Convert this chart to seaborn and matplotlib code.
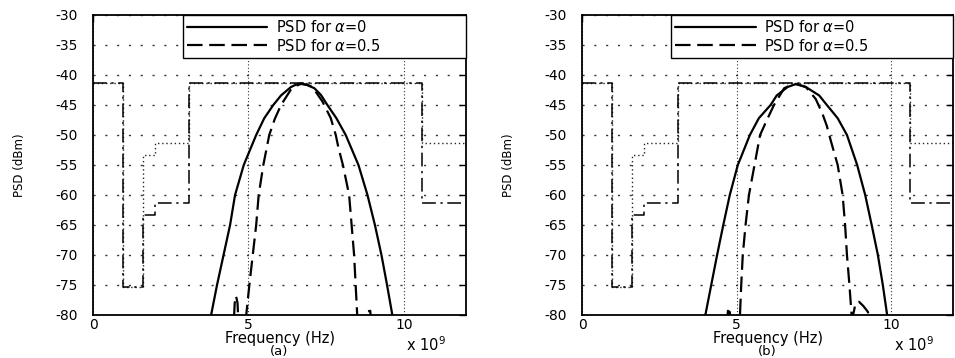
import matplotlib
matplotlib.use('Agg')
import matplotlib.pyplot as plt
import seaborn as sns

# FCC UWB masks, frequency in GHz (x 10^9 Hz), level in dBm
mask_freq = [0.0, 0.96, 1.61, 1.99, 3.1, 10.6, 12.0]
mask_indoor = [-41.3, -75.3, -53.3, -51.3, -41.3, -51.3, -51.3]
mask_outdoor = [-41.3, -75.3, -63.3, -61.3, -41.3, -61.3, -61.3]

# panel (a)
a_solid_f = [3.70, 3.80, 3.99, 4.20, 4.41, 4.57, 4.85, 5.25, 5.51, 5.80, 6.05, 6.37, 6.53, 6.69,
             6.90, 7.12, 7.33, 7.54, 7.83, 8.13, 8.54, 8.83, 9.07, 9.28, 9.46, 9.63, 9.70]
a_solid_p = [-84, -80, -75, -70, -65, -60, -55, -50, -47.2, -45, -43.4, -42.0, -41.6, -41.4,
             -41.7, -42.2, -43.3, -45, -47.2, -50, -55, -60, -65, -70, -75, -80, -84]
a_dash_f = [4.50, 4.56, 4.60, 4.65, 4.70, 4.88, 4.93, 5.03, 5.14, 5.25, 5.33, 5.48, 5.67, 5.85,
            6.05, 6.37, 6.53, 6.69, 6.88, 7.06, 7.38, 7.65, 7.81, 7.90, 8.04, 8.24, 8.32, 8.40,
            8.45, 8.50, 8.56, 8.78, 8.84, 8.92, 8.98]
a_dash_p = [-84, -78, -76.8, -78, -84, -84, -80, -75, -70, -65, -60, -55, -50, -47.3,
            -45, -42.4, -41.8, -41.5, -41.6, -42.0, -44.4, -47.2, -50, -52.2, -55, -60, -65, -70,
            -75, -80, -84, -84, -79.4, -79.3, -84]

# panel (b)
b_solid_f = [3.92, 3.99, 4.18, 4.37, 4.57, 4.78, 5.04, 5.43, 5.72, 6.10, 6.30, 6.65, 6.92,
             7.24, 7.67, 7.92, 8.27, 8.57, 8.90, 9.16, 9.37, 9.57, 9.73, 9.87, 9.93]
b_solid_p = [-84, -80, -75, -70, -65, -60, -55, -50, -47.2, -45, -43.4, -42.0, -41.5,
             -42.0, -43.4, -45, -47.2, -50, -55, -60, -65, -70, -75, -80, -84]
b_dash_f = [4.65, 4.72, 4.78, 4.85, 5.06, 5.11, 5.15, 5.20, 5.29, 5.40, 5.58, 5.76, 5.98,
            6.21, 6.54, 6.75, 6.92, 7.24, 7.56, 7.78, 7.92, 8.05, 8.27, 8.43, 8.51, 8.57,
            8.65, 8.72, 8.74, 8.77, 8.85, 8.96, 9.10, 9.25, 9.35]
b_dash_p = [-84, -79.3, -79.5, -84, -84, -80, -75, -70, -65, -60, -55, -50, -47.5,
            -45, -42.2, -41.7, -41.5, -42.0, -44.0, -46.5, -48.5, -51, -55, -60, -65, -70,
            -75, -80, -84, -80, -78, -77.8, -78.5, -79.5, -84]

sns.set_theme(style='white')
plt.rcParams['font.family'] = ['DejaVu Sans']
plt.rcParams['axes.unicode_minus'] = False
plt.rcParams['text.color'] = 'black'
plt.rcParams['axes.labelcolor'] = 'black'
plt.rcParams['axes.edgecolor'] = 'black'
plt.rcParams['axes.linewidth'] = 1.3

fig = plt.figure(figsize=(9.55, 3.58), dpi=100)
ax1 = fig.add_axes([93 / 955, 1 - 315 / 358, 373 / 955, 300 / 358])
ax2 = fig.add_axes([582 / 955, 1 - 315 / 358, 371 / 955, 300 / 358])


def draw_panel(ax, sf, sp, df, dp, tag):
    # masks
    sns.lineplot(x=mask_freq, y=mask_indoor, ax=ax, color='0.15', lw=1.0,
                 linestyle=(0, (1, 2)), drawstyle='steps-post', estimator=None)
    sns.lineplot(x=mask_freq, y=mask_outdoor, ax=ax, color='black', lw=1.1,
                 linestyle=(0, (9, 3, 1.5, 3)), drawstyle='steps-post', estimator=None)
    # PSD curves
    sns.lineplot(x=sf, y=sp, ax=ax, color='black', lw=1.6, estimator=None,
                 label=r'PSD for $\alpha$=0')
    sns.lineplot(x=df, y=dp, ax=ax, color='black', lw=1.6, estimator=None,
                 linestyle=(0, (7, 3)), label=r'PSD for $\alpha$=0.5')

    ax.set_xlim(0, 12)
    ax.set_ylim(-80, -30)
    ax.set_xticks([0, 5, 10])
    ax.set_yticks(range(-80, -29, 5))
    ax.xaxis.grid(True, color='0.2', linestyle=(0, (1, 2)), lw=0.8)
    ax.yaxis.grid(True, color='0.2', linestyle=(0, (1.5, 7)), lw=1.0)
    ax.tick_params(axis='both', which='both', direction='in', length=5, width=1,
                   top=True, right=True, labelsize=10, colors='black')
    ax.tick_params(axis='y', pad=11)
    ax.tick_params(axis='x', pad=2)
    for s in ax.spines.values():
        s.set_visible(True)
        s.set_color('black')
        s.set_linewidth(1.3)

    ax.set_xlabel('Frequency (Hz)', fontsize=10.5)
    ax.xaxis.set_label_coords(0.5, -0.053)
    ax.set_ylabel('PSD (dBm)', fontsize=8.5)
    ax.yaxis.set_label_coords(-0.18, 0.5)
    ax.text(0.5, -0.1, tag, transform=ax.transAxes, ha='center', va='top', fontsize=9.5)
    ax.text(0.84, -0.10, r'x 10$^{9}$', transform=ax.transAxes, ha='left',
            va='center', fontsize=10.5)

    leg = ax.legend(loc='upper right', bbox_to_anchor=(0.24, 0, 0.76, 1), mode='expand',
                    borderaxespad=0, fontsize=10.5, handlelength=5.5, frameon=True,
                    fancybox=False, framealpha=1, edgecolor='black',
                    borderpad=0.3, labelspacing=0.15, handletextpad=0.6)
    leg.get_frame().set_linewidth(1.0)


draw_panel(ax1, a_solid_f, a_solid_p, a_dash_f, a_dash_p, '(a)')
draw_panel(ax2, b_solid_f, b_solid_p, b_dash_f, b_dash_p, '(b)')

fig.savefig('out.png', dpi=100)
